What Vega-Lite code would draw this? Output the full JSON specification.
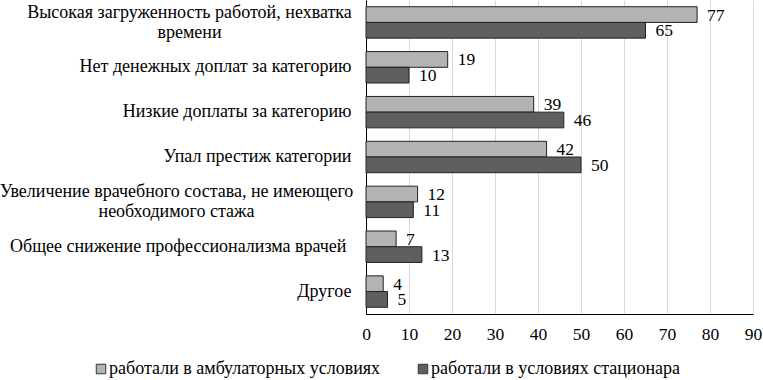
{
  "$schema": "https://vega.github.io/schema/vega-lite/v6.json",
  "width": 387,
  "height": 314,
  "autosize": {"type": "none"},
  "padding": {"left": 366, "top": 0, "right": 10, "bottom": 66},
  "background": "white",
  "config": {
    "font": "Liberation Serif",
    "view": {"stroke": null}
  },
  "data": {
    "values": [
      {"cat": "Высокая загруженность работой, нехватка|времени", "series": "работали в амбулаторных условиях", "value": 77},
      {"cat": "Высокая загруженность работой, нехватка|времени", "series": "работали в условиях стационара", "value": 65},
      {"cat": "Нет денежных доплат за категорию", "series": "работали в амбулаторных условиях", "value": 19},
      {"cat": "Нет денежных доплат за категорию", "series": "работали в условиях стационара", "value": 10},
      {"cat": "Низкие доплаты за категорию", "series": "работали в амбулаторных условиях", "value": 39},
      {"cat": "Низкие доплаты за категорию", "series": "работали в условиях стационара", "value": 46},
      {"cat": "Упал престиж категории", "series": "работали в амбулаторных условиях", "value": 42},
      {"cat": "Упал престиж категории", "series": "работали в условиях стационара", "value": 50},
      {"cat": "Увеличение врачебного состава, не имеющего|необходимого стажа", "series": "работали в амбулаторных условиях", "value": 12},
      {"cat": "Увеличение врачебного состава, не имеющего|необходимого стажа", "series": "работали в условиях стационара", "value": 11},
      {"cat": "Общее снижение профессионализма врачей", "series": "работали в амбулаторных условиях", "value": 7},
      {"cat": "Общее снижение профессионализма врачей", "series": "работали в условиях стационара", "value": 13},
      {"cat": "Другое", "series": "работали в амбулаторных условиях", "value": 4},
      {"cat": "Другое", "series": "работали в условиях стационара", "value": 5}
    ]
  },
  "encoding": {
    "y": {
      "field": "cat", "type": "nominal", "sort": null,
      "scale": {"paddingInner": 0.3, "paddingOuter": 0.15},
      "axis": {
        "title": null, "labelExpr": "split(datum.label, '|')", "labelLineHeight": 20,
        "labelFont": "Liberation Serif", "labelFontSize": 18, "labelColor": "#000",
        "labelAlign": {"condition": {"test": "indexof(datum.value, '|') >= 0", "value": "center"}, "value": "right"},
        "labelPadding": {"condition": [
          {"test": "indexof(datum.value, 'Высокая') >= 0", "value": 177},
          {"test": "indexof(datum.value, 'Увеличение') >= 0", "value": 190},
          {"test": "indexof(datum.value, 'Общее') >= 0", "value": 20}
        ], "value": 15},
        "labelOffset": {"condition": {"test": "indexof(datum.value, '|') >= 0", "value": -9.5}, "value": 0},
        "ticks": false, "domainColor": "#000", "labelLimit": 400
      }
    },
    "yOffset": {"field": "series", "type": "nominal", "sort": null, "scale": {"paddingInner": 0, "paddingOuter": 0}},
    "x": {
      "field": "value", "type": "quantitative",
      "scale": {"domain": [0, 90], "nice": false},
      "axis": {
        "title": null, "values": [0, 10, 20, 30, 40, 50, 60, 70, 80, 90],
        "labelFont": "Liberation Serif", "labelFontSize": 17.5, "labelColor": "#000",
        "grid": true, "gridColor": "#d9d9d9", "ticks": false, "domainColor": "#000",
        "labelPadding": 11, "labelFlush": false
      }
    }
  },
  "layer": [
    {
      "mark": {"type": "bar", "stroke": "#222", "strokeWidth": 1},
      "encoding": {
        "color": {
          "field": "series", "type": "nominal", "sort": null,
          "scale": {"range": ["#b3b3b3", "#5f5f5f"]},
          "legend": {
            "title": null, "orient": "none", "direction": "horizontal",
            "legendX": -274, "legendY": 360, "symbolType": "square", "symbolSize": 90,
            "symbolStrokeColor": "#333", "symbolStrokeWidth": 1, "labelOffset": -1,
            "columnPadding": 33, "labelLimit": 400,
            "labelFont": "Liberation Serif", "labelFontSize": 18, "labelColor": "#000"
          }
        }
      }
    },
    {
      "mark": {"type": "text", "align": "left", "baseline": "middle", "dx": 10, "dy": 1, "fontSize": 17.5, "font": "Liberation Serif", "color": "#000"},
      "encoding": {"text": {"field": "value", "type": "quantitative"}}
    }
  ]
}
